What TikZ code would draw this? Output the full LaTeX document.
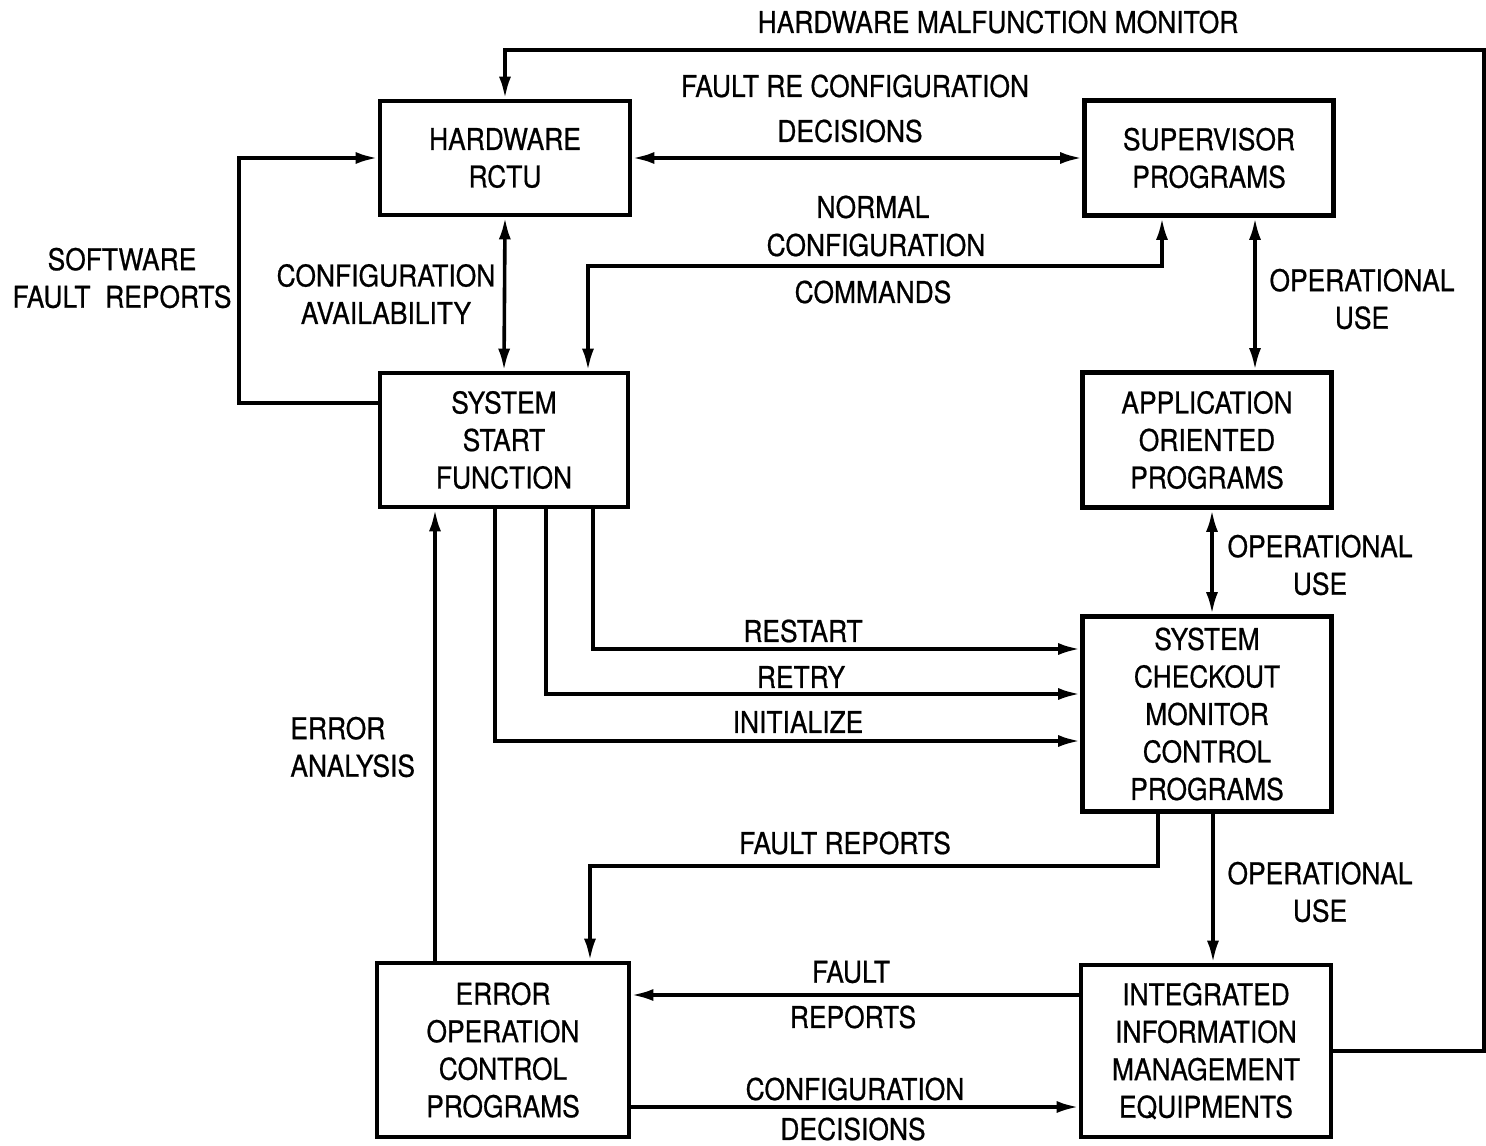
\documentclass[tikz,border=0pt]{standalone}
\usepackage{fontspec}
\setsansfont{TeX Gyre Heros}[FakeStretch=0.88, FakeBold=0.6]
\usetikzlibrary{arrows.meta}

\begin{document}
\begin{tikzpicture}[x=0.5pt, y=-0.5pt,
    blk/.style={draw, line width=2.3pt, align=center, inner sep=0pt},
    conn/.style={line width=1.8pt},
    lbl/.style={align=center, inner sep=0pt},
    >={Latex[length=11pt, width=6pt]},
    font=\sffamily\fontsize{15}{18.75}\selectfont]
    \useasboundingbox (0,0) rectangle (1486,1145);

    % boxes
    \node[blk, minimum width=125pt, minimum height=57pt] (hw) at (505,158) {HARDWARE\\RCTU};
    \node[blk, minimum width=124.5pt, minimum height=57.5pt] (sup) at (1209,158) {SUPERVISOR\\PROGRAMS};
    \node[blk, minimum width=124pt, minimum height=67pt] (ssf) at (504,440) {SYSTEM\\START\\FUNCTION};
    \node[blk, minimum width=124.5pt, minimum height=67.5pt] (aop) at (1207,440) {APPLICATION\\ORIENTED\\PROGRAMS};
    \node[blk, minimum width=124.5pt, minimum height=97.5pt] (scm) at (1207,714) {SYSTEM\\CHECKOUT\\MONITOR\\CONTROL\\PROGRAMS};
    \node[blk, minimum width=126pt, minimum height=87pt] (eoc) at (503,1050) {ERROR\\OPERATION\\CONTROL\\PROGRAMS};
    \node[blk, minimum width=125pt, minimum height=86pt] (iim) at (1206,1051) {INTEGRATED\\INFORMATION\\MANAGEMENT\\EQUIPMENTS};

    % bend points
    \coordinate (mr) at (1484,50);
    \coordinate (sl) at (239,403);
    \coordinate (nc1) at (1162,266);
    \coordinate (nc2) at (588,266);
    \coordinate (ou1) at (1255,300);
    \coordinate (ou2) at (1212,560);
    \coordinate (ou3) at (1213,880);
    \coordinate (ea) at (435,700);
    \coordinate (fr1) at (1158,866);
    \coordinate (fr2) at (590,866);

    % connectors
    \draw[conn,->] (iim.east) -| (mr) -| (hw.north);
    \draw[conn,<->] (hw.east) -- (sup.west);
    \draw[conn,->] (ssf.west |- sl) -- (sl) |- (hw.west);
    \draw[conn,<->] (hw.south) -- (ssf.north);
    \draw[conn,<->] (sup.south -| nc1) -- (nc1) -- (nc2) -- (ssf.north -| nc2);
    \draw[conn,<->] (sup.south -| ou1) -- (aop.north -| ou1);
    \draw[conn,<->] (aop.south -| ou2) -- (scm.north -| ou2);
    \draw[conn,->] (scm.south -| ou3) -- (iim.north -| ou3);
    \foreach \xs/\ys in {593/649, 546/694, 495/741} {
    \draw[conn,->] (ssf.south -| \xs,0) |- (scm.west |- 0,\ys);
    }
    \draw[conn,->] (eoc.north -| ea) -- (ssf.south -| ea);
    \draw[conn,->] (scm.south -| fr1) -- (fr1) -- (fr2) -- (eoc.north -| fr2);
    \draw[conn,->] (iim.west |- 0,995) -- (eoc.east |- 0,995);
    \draw[conn,->] (eoc.east |- 0,1107) -- (iim.west |- 0,1107);

    % labels
    \node[lbl] (lmon) at (998,22) {HARDWARE MALFUNCTION MONITOR};
    \node[lbl] (lfr1) at (855,86) {FAULT RE CONFIGURATION};
    \node[lbl] (lfr2) at (850,131) {DECISIONS};
    \node[lbl] (lsw) at (122,278) {SOFTWARE\\FAULT\ \ REPORTS};
    \node[lbl] (lca) at (386,294) {CONFIGURATION\\AVAILABILITY};
    \node[lbl] (lnc1) at (873,207) {NORMAL};
    \node[lbl] (lnc2) at (876,245) {CONFIGURATION};
    \node[lbl] (lnc3) at (873,292) {COMMANDS};
    \node[lbl] (lou1) at (1362,299) {OPERATIONAL\\USE};
    \node[lbl] (lou2) at (1320,565) {OPERATIONAL\\USE};
    \node[lbl] (lou3) at (1320,892) {OPERATIONAL\\USE};
    \node[lbl] (lrs) at (803,631) {RESTART};
    \node[lbl] (lrt) at (801,677) {RETRY};
    \node[lbl] (lin) at (798,722) {INITIALIZE};
    \node[lbl, align=left, anchor=west] (lea) at (290,747) {ERROR\\ANALYSIS};
    \node[lbl] (lfrp) at (845,843) {FAULT REPORTS};
    \node[lbl] (lfa1) at (851,972) {FAULT};
    \node[lbl] (lfa2) at (853,1017) {REPORTS};
    \node[lbl] (lcd1) at (855,1089) {CONFIGURATION};
    \node[lbl] (lcd2) at (853,1129) {DECISIONS};

\end{tikzpicture}
\end{document}
